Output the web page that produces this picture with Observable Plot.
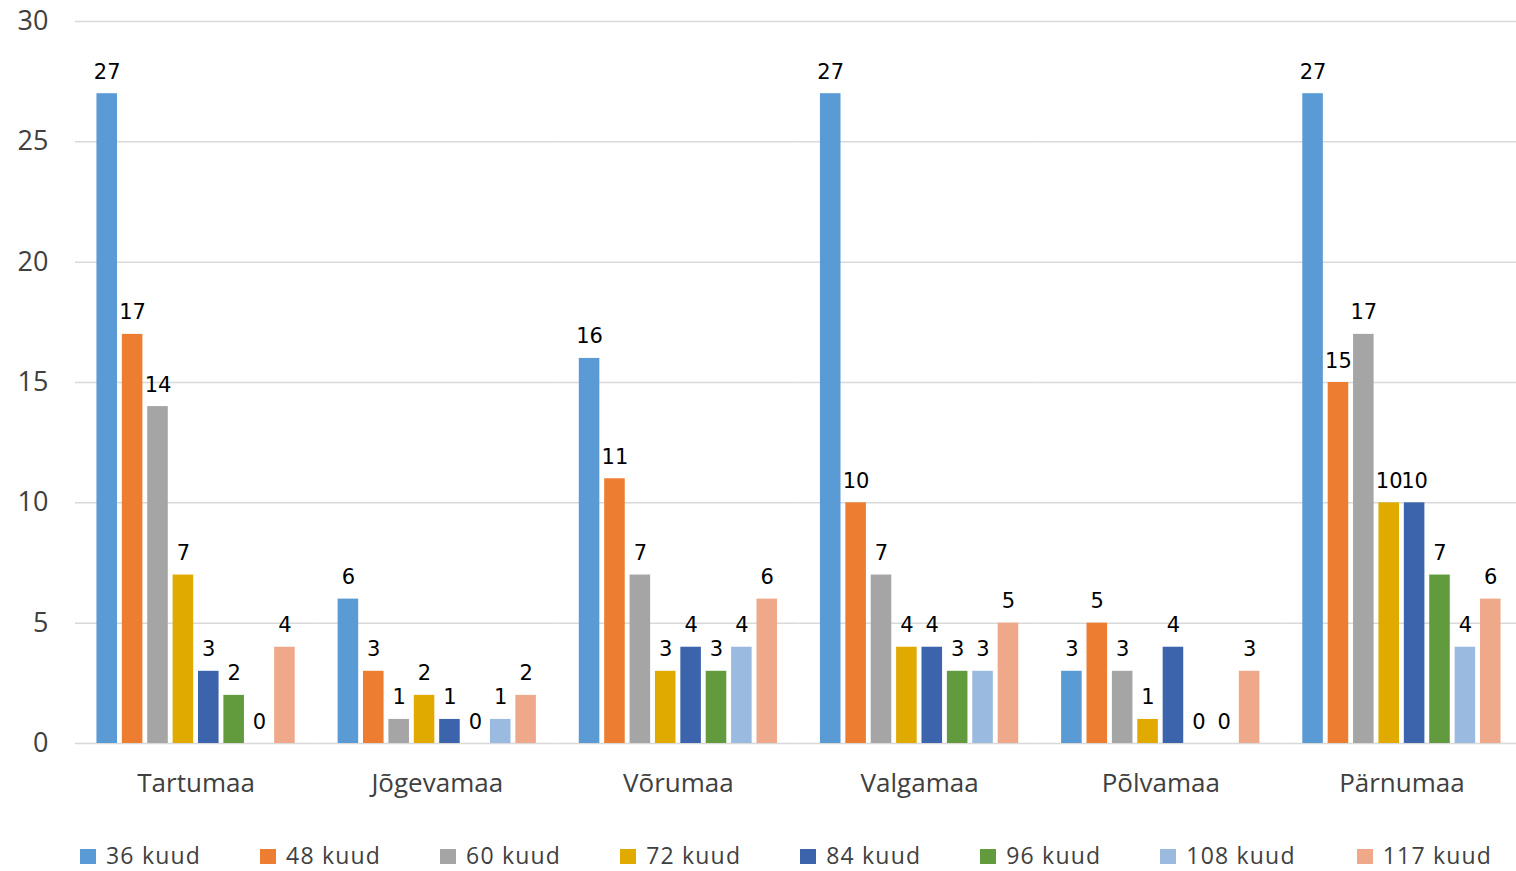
<!DOCTYPE html>
<html>
<head>
<meta charset="utf-8">
<script src="https://cdn.jsdelivr.net/npm/d3@7"></script>
<script src="https://cdn.jsdelivr.net/npm/@observablehq/plot@0.6"></script>
<style>
  html, body { margin: 0; padding: 0; background: #fff; overflow: hidden; }
  #wrap { position: relative; width: 1516px; height: 871px; }
  #chart svg { max-width: none !important; }
  #legend { position: absolute; left: 80px; top: 840px; width: max-content; display: flex; gap: 59px; flex-wrap: nowrap; white-space: nowrap; font-family: "Open Sans", sans-serif; font-size: 23px; line-height: 31px; color: #404040; letter-spacing: 1.2px; }
  #legend .item { display: flex; align-items: center; flex-shrink: 0; }
  #legend .item:last-child { margin-left: 2px; }
  #legend .sw { width: 16px; height: 15px; margin-right: 10px; flex-shrink: 0; position: relative; top: 1px; }
</style>
</head>
<body>
<div id="wrap"><div id="chart"></div><div id="legend"></div></div>
<script>
const regions = ["Tartumaa", "Jõgevamaa", "Võrumaa", "Valgamaa", "Põlvamaa", "Pärnumaa"];
const series = ["36 kuud", "48 kuud", "60 kuud", "72 kuud", "84 kuud", "96 kuud", "108 kuud", "117 kuud"];
const k36 = [27, 6, 16, 27, 3, 27];
const k48 = [17, 3, 11, 10, 5, 15];
const k60 = [14, 1, 7, 7, 3, 17];
const k72 = [7, 2, 3, 4, 1, 10];
const k84 = [3, 1, 4, 4, 4, 10];
const k96 = [2, 0, 3, 3, 0, 7];
const k108 = [0, 1, 4, 3, 0, 4];
const k117 = [4, 2, 6, 5, 3, 6];
const colors = ["#5B9BD5", "#ED7D31", "#A5A5A5", "#E0AA00", "#3C64AC", "#629A3E", "#9BBAE0", "#F0A88A"];
const yTicks = [0, 5, 10, 15, 20, 25, 30];

const valueArrays = [k36, k48, k60, k72, k84, k96, k108, k117];
const data = [];
regions.forEach((r, i) => {
  series.forEach((s, j) => {
    data.push({region: r, series: s, value: valueArrays[j][i]});
  });
});

const chart = Plot.plot({
  width: 1522,
  height: 810,
  marginLeft: 75,
  marginRight: 0,
  marginTop: 21,
  marginBottom: 67,
  style: {fontFamily: "Open Sans, sans-serif", background: "#fff", overflow: "visible"},
  fx: {domain: regions, padding: 0, round: false, label: null},
  x: {domain: series, paddingInner: 0.19, paddingOuter: 0.845, round: false, axis: null},
  y: {domain: [0, 30], label: null},
  color: {domain: series, range: colors},
  marks: [
    Plot.ruleY(yTicks, {stroke: "#D9D9D9", strokeWidth: 1.5}),
    Plot.barY(data, {fx: "region", x: "series", y: "value", fill: "series"}),
    Plot.text(data, {fx: "region", x: "series", y: "value", text: d => String(d.value), lineAnchor: "bottom", dy: -15, fontSize: 21, fill: "#000", fontFamily: "DejaVu Sans, sans-serif"}),
    Plot.axisY({ticks: yTicks, tickSize: 0, tickPadding: 27, fontSize: 27, color: "#404040", label: null, tickFormat: d => String(d), style: {letterSpacing: "3px"}}),
    Plot.axisFx({anchor: "bottom", tickSize: 0, tickPadding: 30, fontSize: 26, color: "#404040", label: null, style: {letterSpacing: "2px"}})
  ]
});
document.getElementById("chart").appendChild(chart);

const legend = document.getElementById("legend");
series.forEach((s, j) => {
  const item = document.createElement("div");
  item.className = "item";
  const sw = document.createElement("span");
  sw.className = "sw";
  sw.style.background = colors[j];
  const t = document.createElement("span");
  t.textContent = s;
  item.appendChild(sw);
  item.appendChild(t);
  legend.appendChild(item);
});
</script>
</body>
</html>
